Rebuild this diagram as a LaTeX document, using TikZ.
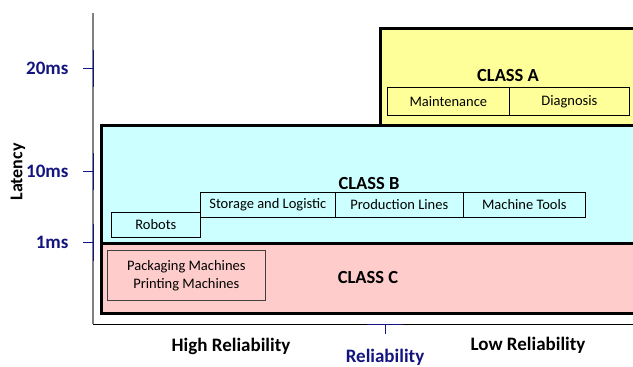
\documentclass[tikz,border=0pt]{standalone}
\usepackage{fontspec}
\setmainfont{Carlito}
\definecolor{navy}{RGB}{20,20,128}
\definecolor{classA}{RGB}{255,255,153}
\definecolor{classB}{RGB}{204,255,255}
\definecolor{classC}{RGB}{255,204,204}
\tikzset{
  classbox/.style={draw=black, line width=2.6pt, anchor=north west, inner sep=0pt},
  itembox/.style={draw=black, line width=0.7pt, anchor=north west, inner sep=0pt, font=\fontsize{14.5}{16}\selectfont},
  classlabel/.style={font=\bfseries\fontsize{18.5}{21}\selectfont},
  ticklabel/.style={font=\bfseries\fontsize{19}{21}\selectfont, text=navy, anchor=east},
  axislabel/.style={font=\bfseries\fontsize{19}{21}\selectfont},
  tickmark/.style={draw=navy, line width=0.9pt},
}
\begin{document}
\begin{tikzpicture}[x=1pt, y=-1pt]
\useasboundingbox (0,0) rectangle (633,367);
\clip (0,0) rectangle (633,367);

% axes
\coordinate (ytop) at (93,13);
\coordinate (origin) at (93,324);
\coordinate (xend) at (640,324);
\draw[gray, line width=1.2pt] (ytop) -- (origin);
\draw[black, line width=1pt] (origin) -- (xend);

% latency ticks
\foreach \y/\a/\b/\lab [count=\i] in {68/50/87/20ms, 171/153/190/10ms, 242/224/261/1ms}{
  \draw[tickmark] (93,\a) -- (93,\b);
  \coordinate (t\i) at (83,\y);
  \draw[tickmark] (t\i) -- (93,\y);
  \node[ticklabel] (tl\i) at (72,\y) {\lab};
}

% reliability tick
\coordinate (rt) at (385,334);
\draw[tickmark] (367,324) -- (403,324);
\draw[tickmark] (385,324) -- (rt);

% axis titles
\node[axislabel, rotate=90, font=\bfseries\fontsize{18}{20}\selectfont] (lat) at (18,172) {Latency};
\node[axislabel] (high) at (231,346) {High Reliability};
\node[axislabel, text=navy] (rel) at (385,357) {Reliability};
\node[axislabel] (low) at (528,345) {Low Reliability};

% shadow under the lowest class
\draw[gray!70, line width=1pt] (103,313.5) -- (640,313.5);

% class boxes
\node[classbox, fill=classC, minimum width=545pt, minimum height=70pt] (C) at (100,242) {};
\node[classbox, fill=classB, minimum width=545pt, minimum height=118pt] (B) at (100,124) {};
\node[classbox, fill=classA, minimum width=265pt, minimum height=97pt] (A) at (379,27) {};

% class A content
\node[classlabel] (Alab) at (508,75) {CLASS A};
\node[itembox, minimum width=122pt, minimum height=28pt] (maint) at (387,87) {Maintenance};
\node[itembox, minimum width=120pt, minimum height=28pt] (diag) at (509,87) {Diagnosis};

% class B content
\node[classlabel] (Blab) at (369,183) {CLASS B};
\node[itembox, minimum width=89pt, minimum height=25pt] (robots) at (111,212) {Robots};
\node[itembox, minimum width=135pt, minimum height=25pt] (storage) at (200,192) {Storage and Logistic};
\node[itembox, minimum width=128pt, minimum height=25pt] (prod) at (335,192) {Production Lines};
\node[itembox, minimum width=122pt, minimum height=25pt] (tools) at (463,192) {Machine Tools};

% class C content
\node[classlabel] (Clab) at (368,277) {CLASS C};
\node[itembox, draw=black!75, minimum width=158pt, minimum height=50pt, align=center,
      font=\fontsize{14.5}{18}\selectfont] (pack) at (107,250)
  {Packaging Machines\\Printing Machines};
\end{tikzpicture}
\end{document}
